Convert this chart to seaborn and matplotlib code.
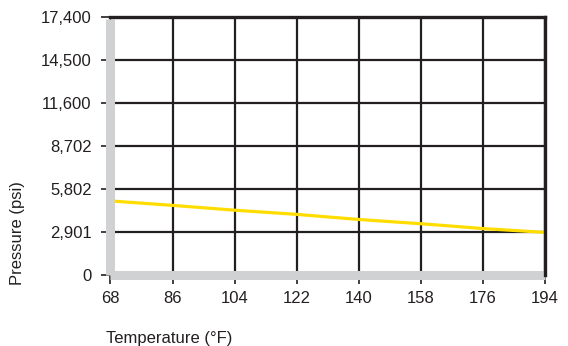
import matplotlib
matplotlib.use("Agg")
import matplotlib.pyplot as plt
import seaborn as sns
import pandas as pd

temperature_f = [68, 86, 104, 122, 140, 158, 176, 194]
pressure_psi = [5020, 4720, 4395, 4115, 3770, 3485, 3160, 2901]
x_ticks = [68, 86, 104, 122, 140, 158, 176, 194]
y_ticks = [0, 2901, 5802, 8702, 11600, 14500, 17400]
y_tick_labels = ["0", "2,901", "5,802", "8,702", "11,600", "14,500", "17,400"]

sns.set_theme(style="white")
plt.rcParams["font.family"] = ["Liberation Sans", "DejaVu Sans"]

ink = "#231f20"
gray = "#d0d1d3"

df = pd.DataFrame({"Temperature": temperature_f, "Pressure": pressure_psi})

fig = plt.figure(figsize=(5.68, 3.46), dpi=100)
ax = fig.add_axes([0.1945, 0.2038, 0.9595 - 0.1945, 0.9509 - 0.2038])

sns.lineplot(data=df, x="Temperature", y="Pressure", ax=ax, color="#ffdd00",
             linewidth=2.3, zorder=3)

ax.set_xlim(68, 194)
ax.set_ylim(0, 17400)
ax.set_xticks(x_ticks)
ax.set_xticklabels([str(v) for v in x_ticks])
ax.set_yticks(y_ticks)
ax.set_yticklabels(y_tick_labels)

ax.grid(True, color=ink, linewidth=1.6, zorder=1)
ax.set_axisbelow(True)

for side in ["left", "bottom"]:
    ax.spines[side].set_color(gray)
    ax.spines[side].set_linewidth(6.5)
    ax.spines[side].set_zorder(4)
    ax.spines[side].set_capstyle("butt")
ax.spines["left"].set_bounds(0, 17250)
for side in ["top", "right"]:
    ax.spines[side].set_color(ink)
    ax.spines[side].set_linewidth(2.4)
    ax.spines[side].set_zorder(5)

ax.tick_params(axis="both", which="major", direction="out", length=6.5,
               width=1.2, color=ink, labelcolor=ink, labelsize=12,
               left=True, bottom=True)
ax.tick_params(axis="x", pad=5)
ax.tick_params(axis="y", pad=7)

ax.set_xlabel("Temperature (°F)", fontsize=12, color=ink)
ax.set_ylabel("Pressure (psi)", fontsize=12, color=ink)
ax.xaxis.set_label_coords((169.5 - 110.5) / 434.5, (275.5 - 339) / 258.5)
ax.yaxis.set_label_coords((18 - 110.5) / 434.5, (275.5 - 233) / 258.5)
ax.xaxis.label.set_va("center")
ax.yaxis.label.set_va("center")

fig.savefig("out.png", dpi=100)
